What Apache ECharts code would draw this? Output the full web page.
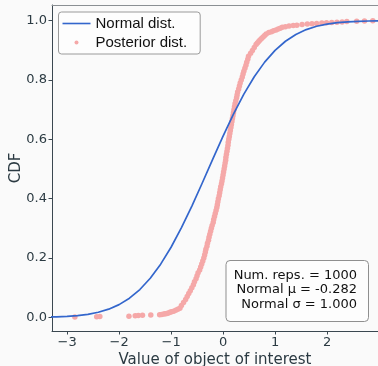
<!DOCTYPE html>
<html>
<head>
<meta charset="utf-8">
<script src="https://cdn.jsdelivr.net/npm/echarts@6/dist/echarts.min.js"></script>
<style>
html,body{margin:0;padding:0;background:#fafafa;}
#chart{width:378px;height:366px;}
</style>
</head>
<body>
<div id="chart"></div>
<script>
// Normal CDF curve (mu = -0.282, sigma = 1)
const normalX = [-3.4,-3.2,-3.0,-2.8,-2.6,-2.4,-2.2,-2.0,-1.8,-1.6,-1.4,-1.2,-1.0,-0.8,-0.6,-0.4,-0.2,0.0,0.2,0.4,0.6,0.8,1.0,1.2,1.4,1.6,1.8,2.0,2.2,2.4,2.6,2.8,3.0,3.2];
const normalCdf = [0.0009,0.0018,0.0033,0.0059,0.0102,0.0171,0.0276,0.0429,0.0645,0.0938,0.1318,0.1793,0.2364,0.3022,0.3752,0.4530,0.5327,0.6110,0.6851,0.7524,0.8111,0.8604,0.9001,0.9308,0.9537,0.9701,0.9813,0.9888,0.9935,0.9963,0.9980,0.9990,0.9995,0.9997];

const posteriorX = [-2.85,-2.43,-2.37,-1.81,-1.69,-1.63,-1.55,-1.39,-1.22,-1.18,-1.14,-1.11,-1.08,-1.05,-1.02,-0.99,-0.95,-0.91,-0.87,-0.83,
-0.80,-0.76,-0.72,-0.69,-0.66,-0.63,-0.60,-0.57,-0.55,-0.52,-0.50,-0.48,-0.45,-0.43,-0.41,-0.39,-0.37,-0.355,-0.34,-0.33,-0.31,-0.30,-0.28,-0.27,-0.255,
-0.24,-0.225,-0.21,-0.19,-0.18,-0.165,-0.15,-0.135,-0.12,-0.11,-0.10,-0.09,-0.075,-0.065,-0.055,-0.045,-0.03,-0.02,-0.01,0.00,
0.01,0.02,0.03,0.04,0.05,0.055,0.065,0.075,0.085,0.095,0.10,0.11,0.12,0.13,0.14,0.15,0.16,0.17,0.18,0.19,0.20,0.21,0.22,
0.23,0.245,0.26,0.27,0.28,0.30,0.315,0.33,0.35,0.37,0.385,0.40,0.42,0.44,0.455,0.475,0.49,0.53,0.565,0.60,0.635,0.66,0.685,0.71,0.74,0.77,0.80,0.83,0.88,
0.93,0.97,1.02,1.06,1.10,1.14,1.20,1.27,1.35,1.42,1.52,1.62,1.71,1.80,1.90,1.99,2.09,2.19,2.29,2.38,2.57,2.72,2.88];
const posteriorCdf = [0.001,0.002,0.003,0.004,0.005,0.006,0.007,0.008,0.009,0.010,0.011,0.012,0.013,0.015,0.017,0.019,0.021,0.024,0.027,0.031,
0.04,0.05,0.06,0.07,0.08,0.09,0.10,0.11,0.12,0.13,0.14,0.15,0.16,0.17,0.18,0.19,0.20,0.21,0.22,0.23,0.24,0.25,0.26,0.27,0.28,
0.29,0.30,0.31,0.32,0.33,0.34,0.35,0.36,0.37,0.38,0.39,0.40,0.41,0.42,0.43,0.44,0.45,0.46,0.47,0.48,
0.49,0.50,0.51,0.52,0.53,0.54,0.55,0.56,0.57,0.58,0.59,0.60,0.61,0.62,0.63,0.64,0.65,0.66,0.67,0.68,0.69,0.70,0.71,
0.72,0.73,0.74,0.75,0.76,0.77,0.78,0.79,0.80,0.81,0.82,0.83,0.84,0.85,0.86,0.87,0.88,0.89,0.90,0.91,0.92,0.925,0.93,0.935,0.94,0.945,0.95,0.955,0.96,
0.963,0.966,0.969,0.972,0.975,0.978,0.980,0.982,0.984,0.985,0.987,0.989,0.990,0.991,0.992,0.993,0.994,0.995,0.996,0.997,0.998,0.999,1.000];

const xTicks = [-3,-2,-1,0,1,2];
const yTicks = [0.0,0.2,0.4,0.6,0.8,1.0];
const statLines = ['Num. reps. = 1000','Normal \u03bc = -0.282','Normal \u03c3 = 1.000'];

const axisColor = '#3a4750';
const textColor = '#2b3a42';
const tickFont = 'DejaVu Sans';

const chart = echarts.init(document.getElementById('chart'), null, {renderer:'canvas'});
const option = {
  backgroundColor:'#fafafa',
  animation:false,
  grid:{left:52, right:0, top:5, bottom:35, outerBoundsMode:'none', containLabel:false},
  xAxis:[{
    type:'value', min:-3.29, max:2.98,
    name:'Value of object of interest', nameLocation:'middle', nameGap:21.5, nameMoveOverlap:false,
    nameTextStyle:{fontFamily:tickFont, fontSize:15, color:textColor},
    axisLine:{show:true, onZero:false, lineStyle:{color:axisColor, width:1}},
    axisTick:{show:true, length:3.5, customValues:xTicks, lineStyle:{color:axisColor}},
    axisLabel:{customValues:xTicks, margin:5, fontFamily:tickFont, fontSize:13, color:textColor,
      formatter:v=> (v<0 ? '\u2212'+Math.abs(v) : String(v))},
    splitLine:{show:false}
  },{
    type:'value', position:'top', min:-3.29, max:2.98,
    axisLine:{show:true, onZero:false, lineStyle:{color:'#8a8f93', width:1}},
    axisTick:{show:false}, axisLabel:{show:false}, splitLine:{show:false}
  }],
  yAxis:{
    type:'value', min:-0.046, max:1.053,
    name:'CDF', nameLocation:'middle', nameGap:28, nameRotate:90, nameMoveOverlap:false,
    nameTextStyle:{fontFamily:tickFont, fontSize:15, color:textColor},
    axisLine:{show:true, onZero:false, lineStyle:{color:axisColor, width:1}},
    axisTick:{show:true, length:3.5, customValues:yTicks, lineStyle:{color:axisColor}},
    axisLabel:{customValues:yTicks, margin:5, fontFamily:tickFont, fontSize:13, color:textColor,
      formatter:v=>v.toFixed(1)},
    splitLine:{show:false}
  },
  legend:{
    left:58.5, top:12, orient:'vertical',
    backgroundColor:'#fdfdfd', borderColor:'#9a9a9a', borderWidth:1, borderRadius:3,
    padding:[4,13,4,4], itemGap:4, itemWidth:28, itemHeight:4,
    textStyle:{fontFamily:'Liberation Sans', fontSize:15, color:'#111'},
    data:[{name:'Normal dist.', icon:'path://M0,0L28,0L28,1.6L0,1.6Z'},{name:'Posterior dist.', icon:'circle'}]
  },
  series:[{
    name:'Normal dist.', type:'line', z:3,
    data: normalX.map((x,i)=>[x, normalCdf[i]]),
    symbol:'none', symbolSize:0, showSymbol:false, smooth:false,
    emphasis:{disabled:true},
    lineStyle:{color:'#3366cc', width:1.7, join:'round'}, itemStyle:{color:'#3366cc'}
  },{
    name:'Posterior dist.', type:'scatter', z:2,
    data: posteriorX.map((x,i)=>[x, posteriorCdf[i]]),
    symbolSize:5.5, itemStyle:{color:'#f5a8a8', opacity:1}
  }],
  graphic:[{
    type:'rect', left:225.5, top:260, z:10,
    shape:{width:142.5, height:61, r:4},
    style:{fill:'#fdfdfd', stroke:'#8f8f8f', lineWidth:1}
  },{
    type:'text', z:11, x:357, y:290,
    style:{text:statLines.join('\n'), align:'right', verticalAlign:'middle',
      font:'13px "DejaVu Sans"', lineHeight:14.2, fill:'#111'}
  }]
};
chart.setOption(option);
</script>
</body>
</html>
